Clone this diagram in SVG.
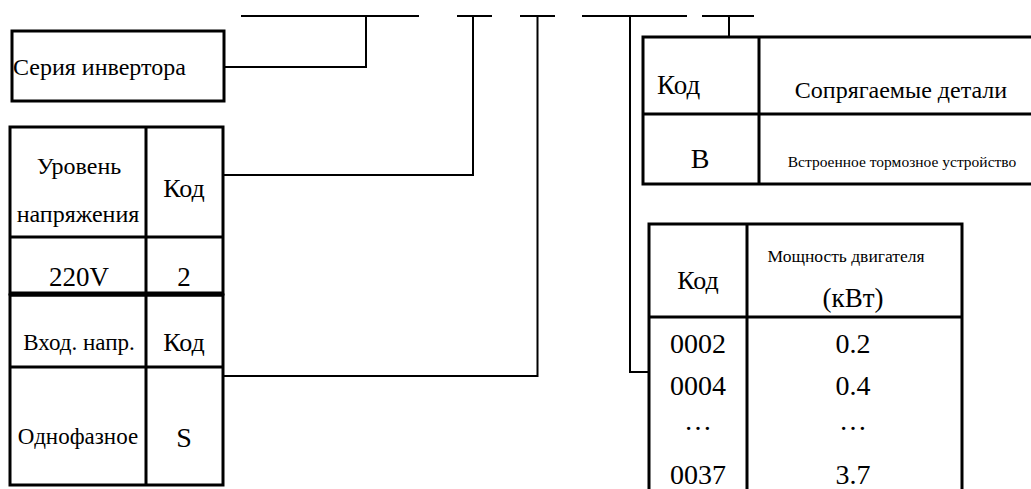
<svg xmlns="http://www.w3.org/2000/svg" width="1031" height="489" viewBox="0 0 1031 489" font-family="Liberation Serif, serif">
<style>
  .m { text-anchor: middle; }
  .box { fill: #fff; stroke: #000; stroke-width: 3; }
  .cell { fill: none; stroke: #000; stroke-width: 3; }
  .conn { fill: none; stroke: #000; stroke-width: 2; }
</style>
<rect width="1031" height="489" fill="#fff"/>

<g id="connectors">
  <path class="conn" d="M241 16 H419 M366 16 V67 H222"/>
  <path class="conn" d="M457 16 H492 M473 16 V175 H223"/>
  <path class="conn" d="M520 16 H555 M537.5 16 V376 H222"/>
  <path class="conn" d="M582 16 H687 M630 16 V372 H649"/>
  <path class="conn" d="M702 16 H754 M729 16 V36"/>
</g>

<g id="series" font-family="Liberation Serif, serif">
  <rect class="box" x="12" y="31" width="212" height="70"/>
  <text x="13" y="75" font-size="24">Серия инвертора</text>
</g>

<g id="voltage" font-family="Liberation Serif, serif">
  <rect class="box" x="10" y="127" width="213" height="167"/>
  <path class="cell" d="M146 127 V294 M10 237 H223"/>
  <text class="m" x="79" y="174" font-size="24">Уровень</text>
  <text class="m" x="78" y="222" font-size="24">напряжения</text>
  <text class="m" x="184" y="197" font-size="26">Код</text>
  <text class="m" x="79" y="286" font-size="27">220V</text>
  <text class="m" x="184" y="286" font-size="27">2</text>
</g>

<g id="input" font-family="Liberation Serif, serif">
  <rect class="box" x="10" y="295" width="213" height="190"/>
  <path class="cell" d="M146 295 V485 M10 367 H223"/>
  <line x1="10" y1="294" x2="223" y2="294" stroke="#000" stroke-width="5"/>
  <text class="m" x="79" y="350" font-size="23">Вход. напр.</text>
  <text class="m" x="184" y="351" font-size="26">Код</text>
  <text class="m" x="78" y="444" font-size="23">Однофазное</text>
  <text class="m" x="184" y="447" font-size="28">S</text>
</g>

<g id="parts" font-family="Liberation Serif, serif">
  <rect class="box" x="643" y="37" width="400" height="147"/>
  <path class="cell" d="M759 37 V184 M643 114 H1043"/>
  <text x="657" y="94" font-size="27">Код</text>
  <text class="m" x="901" y="98" font-size="24">Сопрягаемые детали</text>
  <text class="m" x="700" y="168" font-size="28">В</text>
  <text class="m" x="902" y="167" font-size="15.5">Встроенное тормозное устройство</text>
</g>

<g id="power" font-family="Liberation Serif, serif">
  <path class="cell" d="M649 495 V224 H962 V495 M747 224 V495 M649 317 H962"/>
  <text class="m" x="698" y="289" font-size="26">Код</text>
  <text class="m" x="846" y="262" font-size="17.5">Мощность двигателя</text>
  <text class="m" x="853" y="307" font-size="27">(кВт)</text>
  <text class="m" x="698" y="353" font-size="28">0002</text>
  <text class="m" x="853" y="353" font-size="28">0.2</text>
  <text class="m" x="698" y="395" font-size="28">0004</text>
  <text class="m" x="853" y="395" font-size="28">0.4</text>
  <text class="m" x="698" y="430" font-size="28">…</text>
  <text class="m" x="853" y="430" font-size="28">…</text>
  <text class="m" x="698" y="484" font-size="28">0037</text>
  <text class="m" x="853" y="484" font-size="28">3.7</text>
</g>
</svg>
